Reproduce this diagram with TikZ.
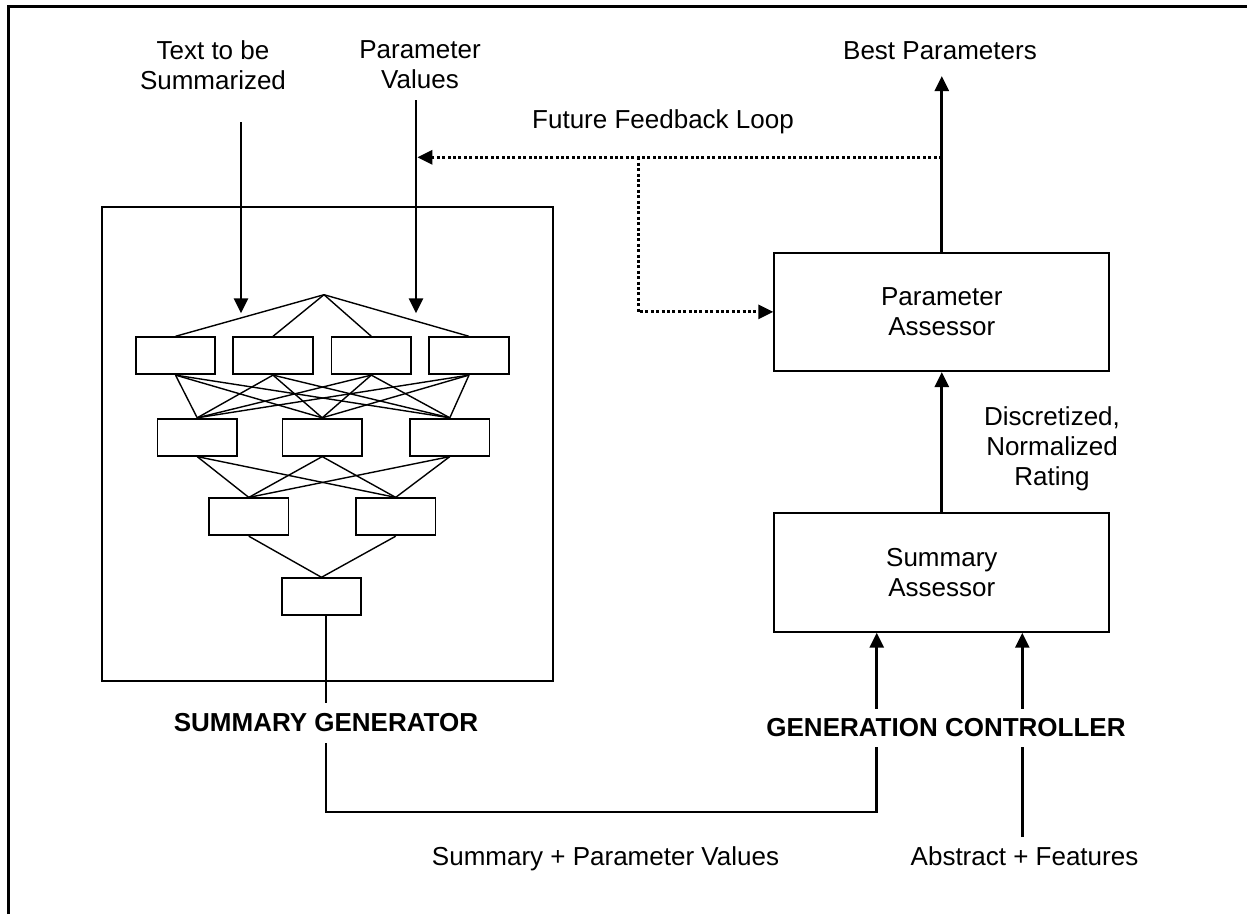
\documentclass[tikz,border=0pt]{standalone}
\usepackage{fontspec}
\setmainfont{Liberation Sans}
\usetikzlibrary{arrows.meta,calc}
\begin{document}
\begin{tikzpicture}[x=1pt,y=-1pt,
  font=\fontsize{26}{30}\selectfont,
  txt/.style={align=center, inner sep=0pt},
  nb/.style={draw, line width=1.8pt, minimum width=79.5pt, minimum height=37pt, inner sep=0pt},
  net/.style={line width=1.4pt},
  bigbox/.style={draw, line width=2pt, inner sep=0pt, align=center},
  arr/.style={line width=2.8pt, -{Triangle[length=15pt,width=14pt]}},
  dots/.style={line width=3pt, dash pattern=on 3pt off 2.4pt, -{Triangle[length=15pt,width=14pt]}},
  lab/.style={font=\fontsize{26}{30}\selectfont\bfseries, fill=white, inner xsep=4pt}
]
\useasboundingbox (0,0) rectangle (1247,914);
\fill[white] (0,0) rectangle (1247,914);
\draw[line width=2.6pt] (8.3,914) -- (8.3,6.5) -- (1247,6.5);

% boxes
\node[bigbox, minimum width=450.5pt, minimum height=474.5pt] (gen) at (327.25,443.75) {};
\node[bigbox, minimum width=335pt, minimum height=118.3pt] (pa) at (941.8,311.85) {Parameter\\Assessor};
\node[bigbox, minimum width=335pt, minimum height=119pt] (sa) at (941.8,572.2) {Summary\\Assessor};

% texts
\node[txt] (tin) at (213,64.8) {Text to be\\Summarized};
\node[txt] (pin) at (420,65) {Parameter\\Values};
\node[txt, anchor=base] (bp) at (940,59.3) {Best Parameters};
\node[txt, anchor=base] (ffl) at (663,128) {Future Feedback Loop};
\node[txt] (dnr) at (1052,448.3) {Discretized,\\Normalized\\Rating};
\node[txt, anchor=base] (spv) at (605.5,865) {Summary + Parameter Values};
\node[txt, anchor=base] (af) at (1024.5,865) {Abstract + Features};

% network
\coordinate (apex) at (324,294.7);
\node[nb] (r11) at (175.5,355.7) {};
\node[nb] (r12) at (273,355.7) {};
\node[nb] (r13) at (371.3,355.7) {};
\node[nb] (r14) at (469,355.7) {};
\node[nb] (r21) at (197.2,437.2) {};
\node[nb] (r22) at (322.2,437.2) {};
\node[nb] (r23) at (449.8,437.2) {};
\node[nb] (r31) at (248.8,516.8) {};
\node[nb] (r32) at (395.7,516.8) {};
\node[nb] (r4) at (321.5,596.7) {};
\foreach \i in {11,12,13,14}{
  \draw[net] (apex) -- (r\i.north);
  \foreach \j in {21,22,23}{ \draw[net] (r\i.south) -- (r\j.north); }
}
\foreach \i in {21,22,23}{
  \foreach \j in {31,32}{ \draw[net] (r\i.south) -- (r\j.north); }
}
\draw[net] (r31.south) -- (r4.north);
\draw[net] (r32.south) -- (r4.north);

% input arrows
\coordinate (tinS) at (241,122);
\coordinate (pinS) at (416,100);
\coordinate (tip1) at (241,313.3);
\coordinate (tip2) at (416,313.3);
\draw[arr] (tinS) -- (tip1);
\draw[arr] (pinS) -- (tip2);

% feedback
\coordinate (fbR) at (942,157.3);
\coordinate (fbL) at (417.4,157.3);
\coordinate (fbM) at (638,157.3);
\draw[dots] (fbR) -- (fbL);
\draw[dots] (fbM) |- (pa.west);

% right column arrows
\coordinate (bpT) at (942,76);
\draw[arr] (pa.north) -- (pa.north |- bpT);
\draw[arr] (sa.north) -- (pa.south);

\coordinate (c1) at (326,812);
\coordinate (c2) at (876.7,812);
\draw[arr] (r4.south -| c1) -- (c1) -- (c2) -- (c2 |- sa.south);
\coordinate (afT) at (1022.3,837);
\draw[arr] (afT) -- (afT |- sa.south);

% labels
\node[lab, inner ysep=11pt] (sgl) at (326,722.7) {SUMMARY GENERATOR};
\node[lab, inner ysep=10pt] (gcl) at (946,727.7) {GENERATION CONTROLLER};
\end{tikzpicture}
\end{document}
